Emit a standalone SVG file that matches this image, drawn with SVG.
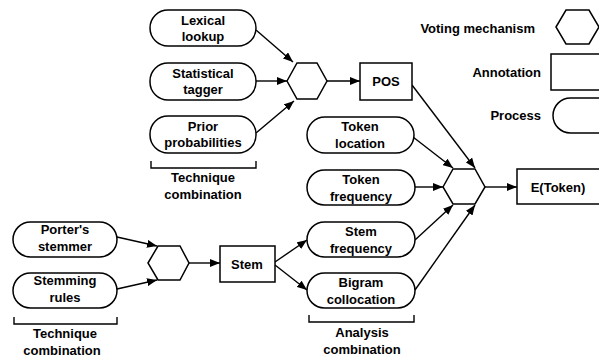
<svg xmlns="http://www.w3.org/2000/svg" width="599" height="357" viewBox="0 0 599 357">
<defs>
<marker id="ah" viewBox="0 0 10 8" refX="10" refY="4" markerWidth="10" markerHeight="8" markerUnits="userSpaceOnUse" orient="auto">
<path d="M0,0 L10,4 L0,8 Z" fill="#000"/>
</marker>
</defs>
<style>
.n{fill:#fff;stroke:#000;stroke-width:1.5}
.t{font-family:"Liberation Sans",Arial,sans-serif;font-size:13px;font-weight:bold;fill:#000;text-anchor:middle}
.r{text-anchor:end}
.c line{stroke:#000;stroke-width:1.4;marker-end:url(#ah)}
.b{fill:none;stroke:#000;stroke-width:1.4}
</style>
<rect width="599" height="357" fill="#fff"/>

<g id="connectors" class="c">
<line x1="256" y1="30" x2="293" y2="62"/>
<line x1="256" y1="81" x2="287" y2="81"/>
<line x1="256" y1="133" x2="294" y2="101"/>
<line x1="327" y1="81" x2="360" y2="81"/>
<line x1="412" y1="85" x2="475" y2="168"/>
<line x1="413" y1="137" x2="453" y2="168"/>
<line x1="415" y1="187" x2="443" y2="187"/>
<line x1="415" y1="240" x2="453" y2="205"/>
<line x1="415" y1="290" x2="475" y2="205"/>
<line x1="485" y1="187" x2="517" y2="187"/>
<line x1="117" y1="237" x2="157" y2="246"/>
<line x1="117" y1="289" x2="157" y2="280"/>
<line x1="189" y1="263" x2="220" y2="263"/>
<line x1="275" y1="262" x2="307" y2="240"/>
<line x1="275" y1="265" x2="307" y2="290"/>
</g>

<g id="lexical">
<rect class="n" x="150" y="10" width="106" height="36" rx="18"/>
<text class="t" x="203" y="25">Lexical</text>
<text class="t" x="203" y="41">lookup</text>
</g>
<g id="statistical">
<rect class="n" x="150" y="63" width="106" height="37" rx="18"/>
<text class="t" x="203" y="78">Statistical</text>
<text class="t" x="203" y="94">tagger</text>
</g>
<g id="prior">
<rect class="n" x="150" y="116" width="106" height="37" rx="18"/>
<text class="t" x="203" y="131">Prior</text>
<text class="t" x="203" y="147">probabilities</text>
</g>
<g id="bracket1">
<path class="b" d="M151,161 V168 H256 V161"/>
<text class="t" x="203" y="182">Technique</text>
<text class="t" x="203" y="199">combination</text>
</g>
<g id="vote1">
<polygon class="n" points="287,81 297,63 317,63 327,81 317,99 297,99"/>
</g>
<g id="pos">
<rect class="n" x="360" y="63" width="52" height="37"/>
<text class="t" x="386" y="86">POS</text>
</g>

<g id="tokloc">
<rect class="n" x="307" y="117" width="107" height="36" rx="18"/>
<text class="t" x="360" y="131">Token</text>
<text class="t" x="360" y="148">location</text>
</g>
<g id="tokfreq">
<rect class="n" x="307" y="170" width="108" height="35" rx="17.5"/>
<text class="t" x="361" y="184">Token</text>
<text class="t" x="361" y="201">frequency</text>
</g>
<g id="stemfreq">
<rect class="n" x="307" y="222" width="108" height="35" rx="17.5"/>
<text class="t" x="361" y="236">Stem</text>
<text class="t" x="361" y="253">frequency</text>
</g>
<g id="bigram">
<rect class="n" x="307" y="273" width="108" height="35" rx="17.5"/>
<text class="t" x="361" y="287">Bigram</text>
<text class="t" x="361" y="304">collocation</text>
</g>
<g id="bracket3">
<path class="b" d="M309,315 V322 H414 V315"/>
<text class="t" x="362" y="337">Analysis</text>
<text class="t" x="362" y="354">combination</text>
</g>
<g id="vote2">
<polygon class="n" points="443,187 453,169 475,169 485,187 475,204 453,204"/>
</g>
<g id="etoken">
<rect class="n" x="517" y="169" width="90" height="35"/>
<text class="t" x="558" y="192">E(Token)</text>
</g>

<g id="porter">
<rect class="n" x="13" y="222" width="104" height="35" rx="17.5"/>
<text class="t" x="65" y="234">Porter's</text>
<text class="t" x="65" y="251">stemmer</text>
</g>
<g id="rules">
<rect class="n" x="13" y="273" width="104" height="35" rx="17.5"/>
<text class="t" x="65" y="285">Stemming</text>
<text class="t" x="65" y="302">rules</text>
</g>
<g id="bracket2">
<path class="b" d="M14,317 V324 H117 V317"/>
<text class="t" x="65" y="338">Technique</text>
<text class="t" x="62" y="355">combination</text>
</g>
<g id="vote3">
<polygon class="n" points="148,263 158,246 180,246 189,263 180,280 158,280"/>
</g>
<g id="stem">
<rect class="n" x="220" y="246" width="55" height="36"/>
<text class="t" x="247" y="269">Stem</text>
</g>

<g id="legend">
<text class="t r" x="535" y="33">Voting mechanism</text>
<polygon class="n" points="556,27 566,10 589,10 599,27 589,44 566,44"/>
<text class="t r" x="541" y="77">Annotation</text>
<rect class="n" x="551" y="54" width="60" height="36"/>
<text class="t r" x="541" y="120">Process</text>
<rect class="n" x="553" y="98" width="80" height="35" rx="17.5"/>
</g>
</svg>
